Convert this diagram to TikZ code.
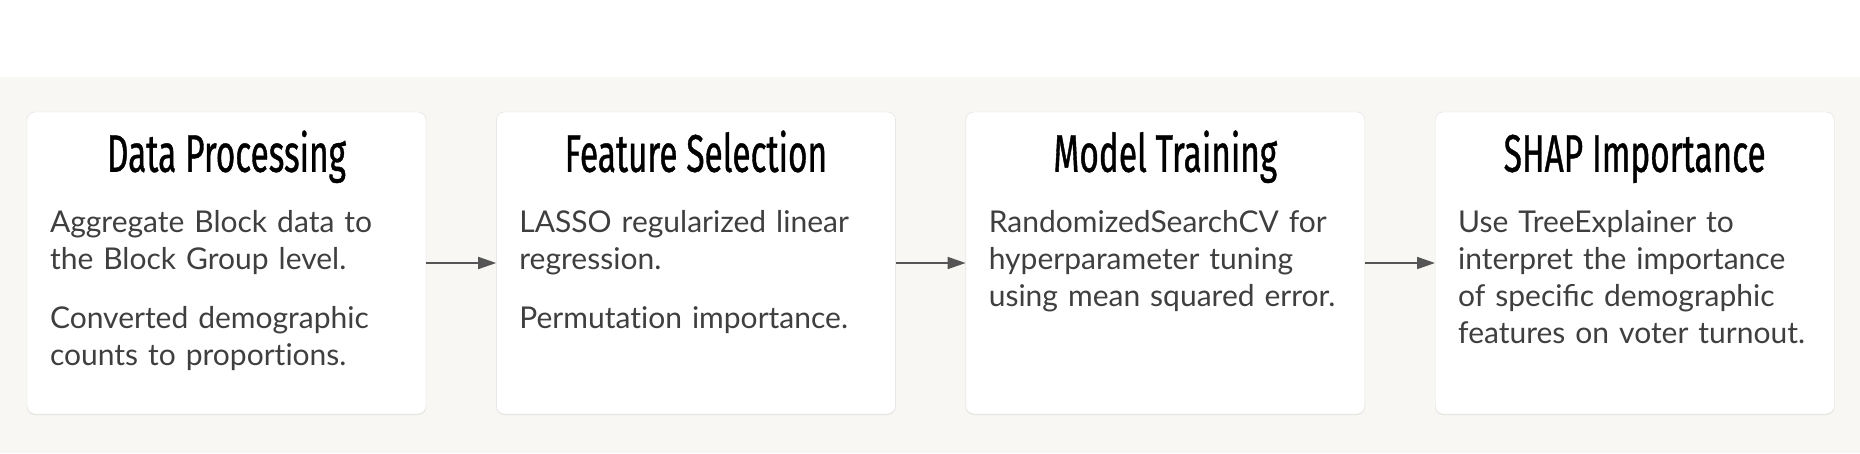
\documentclass[tikz,border=0pt]{standalone}
\usepackage{fontspec}
\setmainfont{Lato}[Ligatures=NoCommon]
\newfontfamily\headfont[FakeStretch=0.63, FakeBold=0.7]{Fira Sans}
\usepackage{xcolor}
\usetikzlibrary{positioning, shadows, arrows.meta}
\definecolor{bandbg}{HTML}{F8F7F4}
\definecolor{bodytext}{HTML}{3F3F3F}
\definecolor{arrowgray}{HTML}{555555}
\tikzset{
  stagebox/.style={draw=black!12, fill=white, rounded corners=8pt,
    minimum width=399pt, minimum height=302pt, inner sep=0pt,
    drop shadow={shadow xshift=0pt, shadow yshift=-1pt, opacity=0.15}},
  stagetitle/.style={anchor=base, inner sep=0pt, font=\headfont\fontsize{53}{60}\selectfont},
  stagetext/.style={anchor=base west, inner sep=0pt, text width=370pt, align=left,
    text=bodytext, font=\fontsize{30}{37}\selectfont,
    execute at begin node={\setlength{\parskip}{22pt}}},
  flow/.style={-{Triangle[length=18pt,width=12pt]}, line width=1.7pt, draw=arrowgray},
}

\begin{document}
\begin{tikzpicture}[x=1pt,y=-1pt]
  \useasboundingbox (0,0) rectangle (1860,453);
  \fill[bandbg] (0,77) rectangle (1860,453);

  % stages
  \node[stagebox] (data) at (226.5,263) {};
  \node[stagebox, right=70pt of data] (feature) {};
  \node[stagebox, right=70pt of feature] (model) {};
  \node[stagebox, right=70pt of model] (shap) {};

  % titles
  \node[stagetitle] (datatitle) at ([yshift=-60pt]data.north) {Data Processing};
  \node[stagetitle] (featuretitle) at ([yshift=-60pt]feature.north) {Feature Selection};
  \node[stagetitle] (modeltitle) at ([yshift=-60pt]model.north) {Model Training};
  \node[stagetitle] (shaptitle) at ([yshift=-60pt]shap.north) {SHAP Importance};

  % descriptions
  \node[stagetext] (datatext) at ([xshift=23pt,yshift=-121pt]data.north west)
    {Aggregate Block data to\\ the Block Group level.\par
     Converted demographic\\ counts to proportions.};
  \node[stagetext] (featuretext) at ([xshift=23pt,yshift=-121pt]feature.north west)
    {LASSO regularized linear\\ regression.\par
     Permutation importance.};
  \node[stagetext] (modeltext) at ([xshift=23pt,yshift=-121pt]model.north west)
    {RandomizedSearchCV for\\ hyperparameter tuning\\ using mean squared error.};
  \node[stagetext] (shaptext) at ([xshift=23pt,yshift=-121pt]shap.north west)
    {Use TreeExplainer to\\ interpret the importance\\ of speci^^^^fb01c demographic\\ features on voter turnout.};

  % flow
  \draw[flow] (data) -- (feature);
  \draw[flow] (feature) -- (model);
  \draw[flow] (model) -- (shap);
\end{tikzpicture}
\end{document}
